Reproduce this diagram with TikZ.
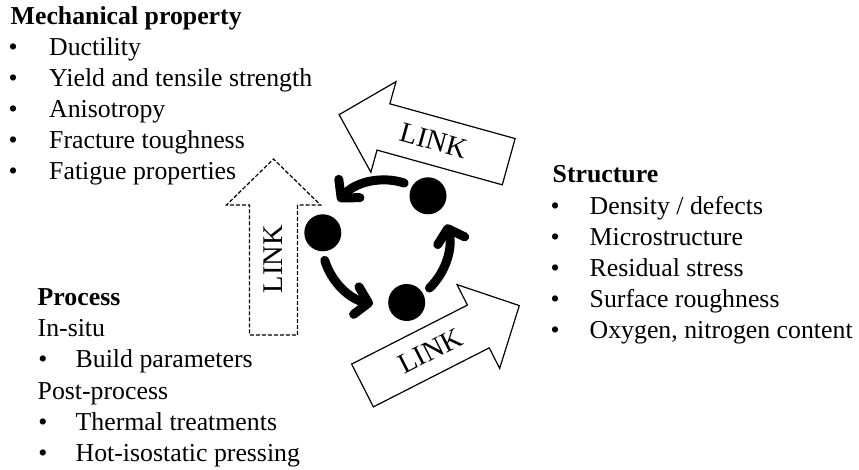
\documentclass[tikz,border=0pt]{standalone}
\usepackage{fontspec}
\setmainfont{Liberation Serif}
\usetikzlibrary{arrows.meta}
\begin{document}
\begin{tikzpicture}[x=1pt,y=1pt,
  txt/.style={anchor=base west,inner sep=0pt,font=\fontsize{25.8}{31}\selectfont},
  hd/.style={anchor=base west,inner sep=0pt,font=\fontsize{25.8}{31}\selectfont\bfseries},
  linkarrow/.style={draw=black,line width=1.2pt,fill=white,line join=miter},
  linkdash/.style={linkarrow,dash pattern=on 4pt off 2pt},
  linktext/.style={inner sep=0pt,font=\fontsize{28.5}{30}\selectfont},
  dot/.style={circle,fill=black,draw=none,inner sep=0pt,minimum size=37pt},
  cyc/.style={line width=9pt,line cap=round,
    -{Straight Barb[length=12.5pt,width=28pt,round]}}
]
\useasboundingbox (0,0) rectangle (859,470);

% ---- Mechanical property
\node[hd] (mech) at (10.5,445.5) {Mechanical property};
\node[txt] (mb1) at (8.5,414.4) {•};
\node[txt] (m1) at (49,414.4) {Ductility};
\node[txt] (mb2) at (8.5,383.3) {•};
\node[txt] (m2) at (49,383.3) {Yield and tensile strength};
\node[txt] (mb3) at (8.5,352.2) {•};
\node[txt] (m3) at (49,352.2) {Anisotropy};
\node[txt] (mb4) at (8.5,321.1) {•};
\node[txt] (m4) at (49,321.1) {Fracture toughness};
\node[txt] (mb5) at (8.5,290) {•};
\node[txt] (m5) at (49,290) {Fatigue properties};

% ---- Process
\node[hd] (proc) at (37.5,164.5) {Process};
\node[txt] (insitu) at (37.5,133.3) {In-situ};
\node[txt] (pb1) at (38.2,102.1) {•};
\node[txt] (p1) at (75.5,102.1) {Build parameters};
\node[txt] (post) at (37.5,70.9) {Post-process};
\node[txt] (pb2) at (38.2,39.7) {•};
\node[txt] (p2) at (75.5,39.7) {Thermal treatments};
\node[txt] (pb3) at (38.2,8.5) {•};
\node[txt] (p3) at (75.5,8.5) {Hot-isostatic pressing};

% ---- Structure
\node[hd] (struct) at (552.5,287) {Structure};
\node[txt] (sb1) at (550.5,255.8) {•};
\node[txt] (s1) at (589.5,255.8) {Density / defects};
\node[txt] (sb2) at (550.5,224.6) {•};
\node[txt] (s2) at (589.5,224.6) {Microstructure};
\node[txt] (sb3) at (550.5,193.4) {•};
\node[txt] (s3) at (589.5,193.4) {Residual stress};
\node[txt] (sb4) at (550.5,162.2) {•};
\node[txt] (s4) at (589.5,162.2) {Surface roughness};
\node[txt] (sb5) at (550.5,131) {•};
\node[txt] (s5) at (589.5,131) {Oxygen, nitrogen content};

% ---- LINK arrows
\begin{scope}[shift={(508.7,308.3)},rotate=164.5]
  \draw[linkarrow] (0,-24) -- (130,-24) -- (130,-47) -- (176,0) -- (130,47) -- (130,24) -- (0,24) -- cycle;
  \node[linktext,rotate=-15.5] (link1) at (78,0) {LINK};
\end{scope}
\begin{scope}[shift={(362.5,84.5)},rotate=27]
  \draw[linkarrow] (0,-24) -- (130,-24) -- (130,-47) -- (176,0) -- (130,47) -- (130,24) -- (0,24) -- cycle;
  \node[linktext,rotate=27] (link2) at (76,0) {LINK};
\end{scope}
\begin{scope}[shift={(273.5,135)},rotate=90]
  \draw[linkdash] (0,-24) -- (130,-24) -- (130,-47) -- (176,0) -- (130,47) -- (130,24) -- (0,24) -- cycle;
  \node[linktext,rotate=90] (link3) at (76,0) {LINK};
\end{scope}

% ---- cycle
\coordinate (cc) at (385,228);
\node[dot] (dA) at (322.8,237.2) {};
\node[dot] (dB) at (428,274.2) {};
\node[dot] (dC) at (406.7,167.5) {};
\draw[cyc] ([shift={(72:62)}]cc) arc[start angle=72,end angle=139,radius=62];
\draw[cyc] ([shift={(197:63)}]cc) arc[start angle=197,end angle=259,radius=63];
\draw[cyc] ([shift={(314:64)}]cc) arc[start angle=314,end angle=376,radius=64];
\end{tikzpicture}
\end{document}
